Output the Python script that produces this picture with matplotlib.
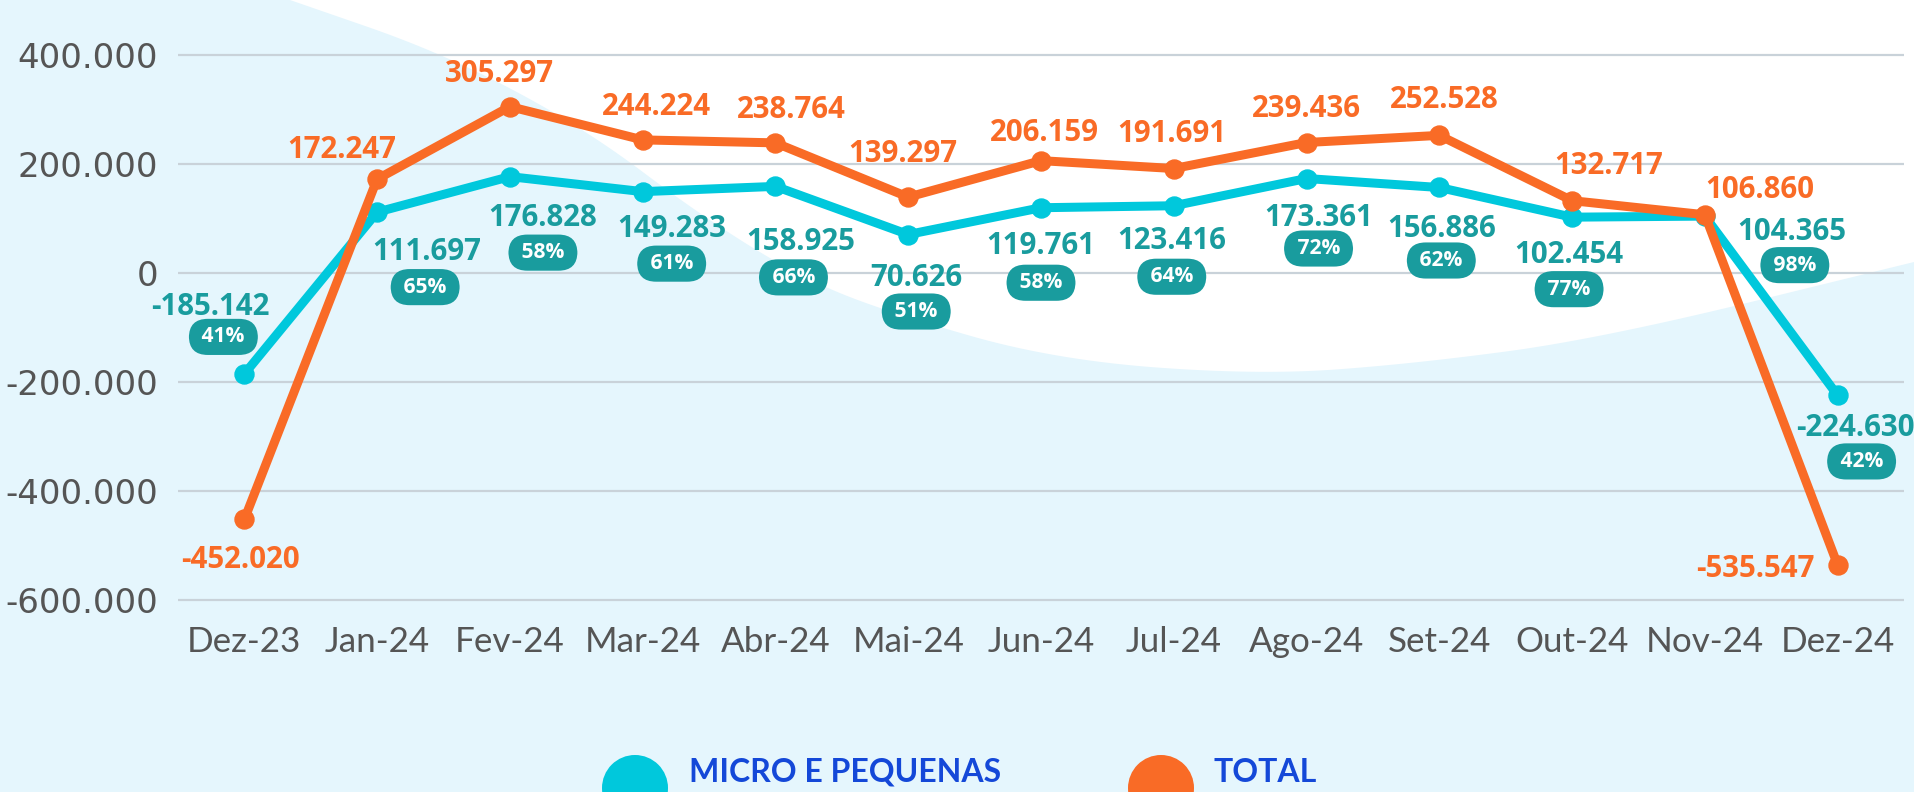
"""Saldo de empregos: micro e pequenas vs total"""

import matplotlib
matplotlib.use("Agg")
import matplotlib.pyplot as plt
import numpy as np
from matplotlib.patches import Circle, Polygon
from matplotlib.transforms import blended_transform_factory

months = ["Dez-23", "Jan-24", "Fev-24", "Mar-24", "Abr-24", "Mai-24", "Jun-24",
          "Jul-24", "Ago-24", "Set-24", "Out-24", "Nov-24", "Dez-24"]
micro = [-185142, 111697, 176828, 149283, 158925, 70626, 119761,
         123416, 173361, 156886, 102454, 104365, -224630]
total = [-452020, 172247, 305297, 244224, 238764, 139297, 206159,
         191691, 239436, 252528, 132717, 106860, -535547]
share = [41, 65, 58, 61, 66, 51, 58, 64, 72, 62, 77, 98, 42]
yticks = [-600000, -400000, -200000, 0, 200000, 400000]

# label offsets in pixels (dx, dy), dy positive = downwards
total_off = [(-4, 37), (-35, -33), (-10, -36), (14, -36), (16, -36), (-5, -47), (3, -31),
             (-2, -38), (0, -37), (5, -39), (37, -38), (55, -28), (-82, 1)]
micro_off = [(-34, -70), (50, 36), (33, 38), (29, 34), (25, 52), (8, 40), (0, 35),
             (-2, 32), (12, 36), (2, 38), (-3, 34), (87, 12), (18, 29)]
badge_off = [(-21, -37), (48, 75), (33, 76), (29, 72), (18, 91), (8, 77), (0, 75),
             (-2, 71), (12, 70), (2, 73), (-3, 72), (90, 49), (24, 66)]

# white wave in the background (pixels from top-left)
wave_x = [290, 443, 583, 700, 800, 887, 1055, 1259, 1412, 1600, 1914]
wave_y = [0, 53, 127, 215, 277, 312, 360, 375, 364, 339, 262]

BG = "#e5f6fd"
CYAN = "#00c8dc"
ORANGE = "#f96b26"
TEAL = "#199c9e"
GRID = "#c9d2d9"
W, H = 1914, 792
LABEL_FONT = ["Open Sans", "DejaVu Sans"]


def px(v):
    """pixels -> points (dpi 100)"""
    return v * 0.72


fig = plt.figure(figsize=(W / 100, H / 100), dpi=100, facecolor=BG)

bg = fig.add_axes([0, 0, 1, 1], zorder=0)
bg.set_xlim(0, W)
bg.set_ylim(H, 0)
bg.axis("off")

pts = np.column_stack([wave_x, wave_y]).astype(float)
for _ in range(4):  # chaikin smoothing
    new = np.empty((2 * (len(pts) - 1), 2))
    new[0::2] = 0.75 * pts[:-1] + 0.25 * pts[1:]
    new[1::2] = 0.25 * pts[:-1] + 0.75 * pts[1:]
    pts = np.vstack([pts[0], new, pts[-1]])
bg.add_patch(Polygon(np.vstack([pts, [[W, 0]]]), closed=True, fc="white", ec="none"))

# main axes: 0 at y=273px, 109px per 200.000
zero_px, scale = 273, 109 / 200000
top_px, bot_px, left_px, right_px = 30, 620, 178, 1904
ax = fig.add_axes([left_px / W, (H - bot_px) / H, (right_px - left_px) / W, (bot_px - top_px) / H],
                  zorder=1)
ax.set_facecolor("none")
ax.set_ylim(-(bot_px - zero_px) / scale, (zero_px - top_px) / scale)
ax.set_xlim(-0.5, len(months) - 0.5)
for s in ax.spines.values():
    s.set_visible(False)

x = np.arange(len(months))
ax.plot(x, micro, color=CYAN, lw=px(9), marker="o", ms=px(19), zorder=3, clip_on=False)
ax.plot(x, total, color=ORANGE, lw=px(9), marker="o", ms=px(19), zorder=4, clip_on=False)

ax.set_yticks(yticks)
ax.set_yticklabels([f"{v:,}".replace(",", ".") for v in yticks])
ax.yaxis.grid(True, color=GRID, lw=1.6)
ax.set_axisbelow(True)
ax.tick_params(axis="y", length=0, pad=px(20), labelsize=px(34), labelcolor="#555555")
for t in ax.get_yticklabels():
    t.set_fontfamily(["DejaVu Sans"])
ax.set_xticks([])

tr = blended_transform_factory(ax.transData, bg.transData)
for i, m in enumerate(months):
    ax.text(i, 652, m, transform=tr, ha="center", va="baseline", fontsize=px(35),
            color="#555555", family=["Lato", "DejaVu Sans"])

for i in range(len(months)):
    dx, dy = total_off[i]
    ax.annotate(f"{total[i]:,}".replace(",", "."), (i, total[i]), xytext=(dx, -dy),
                textcoords="offset pixels", ha="center", va="center_baseline",
                fontsize=px(29.5), fontweight="bold", color=ORANGE, family=LABEL_FONT, zorder=6)
    dx, dy = micro_off[i]
    ax.annotate(f"{micro[i]:,}".replace(",", "."), (i, micro[i]), xytext=(dx, -dy),
                textcoords="offset pixels", ha="center", va="center_baseline",
                fontsize=px(29.5), fontweight="bold", color=TEAL, family=LABEL_FONT, zorder=6)
    dx, dy = badge_off[i]
    ax.annotate(f" {share[i]}% ", (i, micro[i]), xytext=(dx, -dy),
                textcoords="offset pixels", ha="center", va="center",
                fontsize=px(21), fontweight="bold", color="white", family=LABEL_FONT, zorder=7,
                bbox=dict(boxstyle="round,pad=0.36,rounding_size=0.9", fc=TEAL, ec="none"))

# legend at the bottom (circles cut by the figure edge)
legend_blue = "#1448d8"
bg.add_patch(Circle((635, 788), 33, fc=CYAN, ec="none"))
bg.add_patch(Circle((1161, 788), 33, fc=ORANGE, ec="none"))
bg.text(689, 782, "MICRO E PEQUENAS", ha="left", va="baseline", fontsize=px(32),
        fontweight="bold", color=legend_blue, family=["Lato", "DejaVu Sans"])
bg.text(1214, 782, "TOTAL", ha="left", va="baseline", fontsize=px(32),
        fontweight="bold", color=legend_blue, family=["Lato", "DejaVu Sans"])

fig.savefig("out.png", dpi=100, facecolor=BG)
plt.close(fig)
